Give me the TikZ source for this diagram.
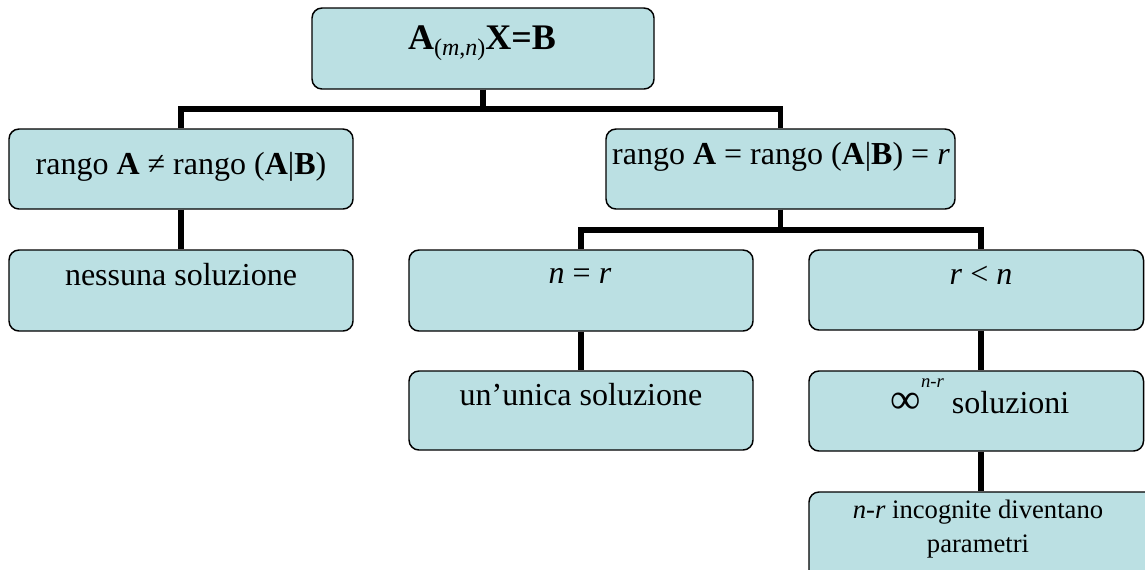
\documentclass[tikz,border=0pt]{standalone}
\usepackage{fontspec}
\setmainfont{Liberation Serif}
\usetikzlibrary{fit}
\definecolor{boxfill}{RGB}{187,224,227}
\begin{document}
\begin{tikzpicture}[x=0.75pt,y=-0.75pt,
  box/.style={draw=black,line width=1.1pt,fill=boxfill,rounded corners=7.5pt,inner sep=0pt},
  txt/.style={anchor=base,inner sep=0pt,font=\fontsize{24}{28}\selectfont},
  conn/.style={draw=black,line width=3.9pt}]
\clip (0,0) rectangle (1145,569);
% boxes
\node[box,fit={(312,8) (654,89)}] (top) {};
\node[box,fit={(9,129) (353,209)}] (L1) {};
\node[box,fit={(9,250) (353,331)}] (L2) {};
\node[box,fit={(606,129) (955,209)}] (R1) {};
\node[box,fit={(409,250) (753,331)}] (M1) {};
\node[box,fit={(409,371) (753,450)}] (M2) {};
\node[box,fit={(809,250) (1143.5,330)}] (RR1) {};
\node[box,fit={(809,371) (1143.5,451)}] (RR2) {};
\node[box,fit={(809,492) (1165,610)}] (RR3) {};
% texts
\node[txt] (topt) at (482,49) {\fontsize{27}{30}\selectfont\textbf{A}\raisebox{-4.5pt}{\fontsize{18}{20}\selectfont(\textit{m},\textit{n})}\textbf{X=B}};
\node[txt] (L1t) at (181,174) {rango \textbf{A} ≠ rango (\textbf{A}|\textbf{B})};
\node[txt] (L2t) at (181,285) {nessuna soluzione};
\node[txt] (R1t) at (781,164) {rango \textbf{A} = rango (\textbf{A}|\textbf{B}) = \textit{r}};
\node[txt] (M1t) at (580,283) {\textit{n} = \textit{r}};
\node[txt] (M2t) at (581,405) {un’unica soluzione};
\node[txt] (RR1t) at (981,284) {\textit{r} < \textit{n}};
\node[txt] (RR2t) at (980,413) {{\fontsize{32}{32}\selectfont ∞}\raisebox{19pt}{\fontsize{14}{14}\selectfont\textit{n-r}} soluzioni};
\node[txt,align=center,font=\fontsize{20}{25.5}\selectfont] (RR3t) at (978,552) {\textit{n-r} incognite diventano\\parametri};
% connectors
\coordinate (b1) at (483,109);
\coordinate (b2) at (782,230);
\draw[conn] (top.south) -- (top.south |- b1) -| (L1.north);
\draw[conn] (top.south) -- (top.south |- b1) -| (R1.north);
\draw[conn] (L1.south) -- (L2.north);
\draw[conn] (R1.south) -- (R1.south |- b2) -| (M1.north);
\draw[conn] (R1.south) -- (R1.south |- b2) -| (RR1.north -| RR1t);
\draw[conn] (M1.south) -- (M2.north);
\draw[conn] (RR1.south -| RR1t) -- (RR2.north -| RR1t);
\draw[conn] (RR2.south -| RR1t) -- (RR3.north -| RR1t);
\end{tikzpicture}
\end{document}
